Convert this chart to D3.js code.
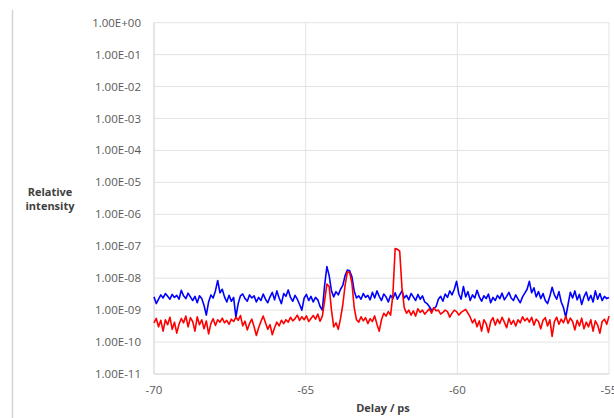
<!DOCTYPE html>
<html><head><meta charset="utf-8">
<script src="https://cdn.jsdelivr.net/npm/d3@7"></script>
<style>body{margin:0;background:#fff;}svg{display:block;}</style>
</head><body><svg id="c" width="614" height="418"></svg>
<script>
const xStart = -70, xStep = 0.075;
const xTicks = [-70, -65, -60, -55];
const yTicks = [1e0,1e-1,1e-2,1e-3,1e-4,1e-5,1e-6,1e-7,1e-8,1e-9,1e-10,1e-11];
const yTickLabels = ["1.00E+00","1.00E-01","1.00E-02","1.00E-03","1.00E-04","1.00E-05","1.00E-06","1.00E-07","1.00E-08","1.00E-09","1.00E-10","1.00E-11"];
const blue = [
2.6e-9,1.6e-9,2.2e-9,3.0e-9,2.4e-9,3.3e-9,2.7e-9,2.2e-9,3.1e-9,2.5e-9,
2.9e-9,2.2e-9,4.2e-9,2.8e-9,2.3e-9,3.4e-9,2.6e-9,2.0e-9,2.7e-9,1.7e-9,
2.8e-9,2.3e-9,1.4e-9,7.0e-10,1.8e-9,3.0e-9,2.4e-9,4.0e-9,8.5e-9,3.5e-9,
4.5e-9,2.6e-9,1.8e-9,2.9e-9,1.9e-9,2.5e-9,6.0e-10,1.6e-9,2.8e-9,3.2e-9,
2.3e-9,1.9e-9,3.0e-9,2.4e-9,2.8e-9,1.8e-9,2.5e-9,2.0e-9,3.2e-9,2.2e-9,
1.7e-9,2.6e-9,3.6e-9,2.1e-9,4.0e-9,2.4e-9,1.6e-9,3.3e-9,2.7e-9,4.3e-9,
2.5e-9,1.9e-9,2.9e-9,2.2e-9,1.5e-9,1.0e-9,2.4e-9,3.1e-9,2.0e-9,2.7e-9,
1.8e-9,2.5e-9,2.1e-9,1.3e-9,1.0e-9,6.0e-9,2.3e-8,1.2e-8,4.0e-9,2.6e-9,
3.8e-9,3.0e-9,4.5e-9,6.0e-9,1.2e-8,1.8e-8,1.7e-8,1.1e-8,4.0e-9,2.4e-9,
2.8e-9,2.2e-9,3.3e-9,2.5e-9,2.9e-9,2.1e-9,3.6e-9,2.4e-9,4.0e-9,2.7e-9,
2.0e-9,3.2e-9,2.6e-9,1.8e-9,2.9e-9,2.3e-9,3.5e-9,2.2e-9,3.0e-9,4.0e-9,
2.4e-9,2.9e-9,2.1e-9,3.3e-9,2.6e-9,2.0e-9,3.1e-9,2.2e-9,2.8e-9,1.8e-9,
1.6e-9,1.3e-9,1.0e-9,1.1e-9,1.3e-9,2.2e-9,2.7e-9,1.9e-9,3.2e-9,2.5e-9,
4.0e-9,3.0e-9,4.5e-9,8.0e-9,3.2e-9,2.2e-9,5.5e-9,2.6e-9,3.8e-9,2.0e-9,
3.0e-9,2.4e-9,4.2e-9,2.6e-9,1.9e-9,2.8e-9,2.3e-9,3.2e-9,1.7e-9,2.5e-9,
2.0e-9,2.9e-9,2.3e-9,3.4e-9,2.1e-9,2.7e-9,3.6e-9,2.4e-9,2.0e-9,3.0e-9,
2.2e-9,1.7e-9,2.6e-9,3.4e-9,4.5e-9,8.0e-9,3.5e-9,5.0e-9,2.6e-9,3.8e-9,
2.3e-9,3.3e-9,2.0e-9,1.6e-9,2.7e-9,5.2e-9,3.0e-9,2.2e-9,3.8e-9,1.8e-9,
1.2e-9,6.0e-10,1.5e-9,3.6e-9,2.4e-9,4.0e-9,2.1e-9,3.1e-9,1.5e-9,2.6e-9,
3.7e-9,2.0e-9,2.9e-9,1.8e-9,4.0e-9,2.2e-9,3.3e-9,2.0e-9,2.7e-9,2.3e-9,
2.5e-9];
const red = [
4.0e-10,5.5e-10,3.0e-10,4.8e-10,2.2e-10,5.0e-10,3.5e-10,6.0e-10,2.5e-10,4.2e-10,
1.9e-10,3.6e-10,5.5e-10,4.0e-10,6.5e-10,3.0e-10,5.8e-10,4.4e-10,2.2e-10,6.2e-10,
3.5e-10,5.0e-10,2.6e-10,4.6e-10,1.8e-10,3.8e-10,5.4e-10,3.3e-10,5.0e-10,4.2e-10,
5.6e-10,4.0e-10,4.8e-10,3.6e-10,5.2e-10,4.4e-10,6.0e-10,4.8e-10,6.8e-10,3.2e-10,
4.5e-10,2.4e-10,3.8e-10,5.2e-10,3.0e-10,1.6e-10,2.8e-10,4.4e-10,6.5e-10,4.0e-10,
2.5e-10,3.5e-10,1.7e-10,2.8e-10,4.2e-10,3.2e-10,4.8e-10,3.8e-10,5.0e-10,4.2e-10,
6.0e-10,4.6e-10,5.4e-10,7.0e-10,4.8e-10,6.2e-10,5.0e-10,6.6e-10,4.4e-10,5.5e-10,
6.8e-10,5.2e-10,7.5e-10,4.5e-10,6.5e-10,2.0e-9,6.5e-9,5.5e-9,1.0e-9,3.0e-10,
4.0e-10,2.5e-10,5.5e-10,1.5e-9,6.0e-9,1.6e-8,1.5e-8,7.0e-9,1.2e-9,5.0e-10,
4.2e-10,6.2e-10,4.6e-10,5.8e-10,3.8e-10,5.4e-10,4.4e-10,6.6e-10,3.6e-10,2.2e-10,
5.0e-10,8.0e-10,6.5e-10,9.0e-10,7.0e-10,3.0e-9,8.5e-8,8.0e-8,7.0e-8,5.0e-9,
1.2e-9,8.0e-10,1.0e-9,7.0e-10,9.5e-10,6.5e-10,1.1e-9,8.5e-10,1.0e-9,7.5e-10,
9.0e-10,1.1e-9,8.0e-10,1.2e-9,9.5e-10,1.0e-9,7.5e-10,8.5e-10,1.0e-9,9.0e-10,
6.0e-10,8.0e-10,1.0e-9,9.0e-10,7.0e-10,8.5e-10,9.5e-10,1.05e-9,8.0e-10,6.0e-10,
4.0e-10,5.2e-10,3.0e-10,4.6e-10,2.2e-10,5.0e-10,3.8e-10,2.0e-10,4.4e-10,5.8e-10,
3.4e-10,5.2e-10,3.8e-10,6.0e-10,4.2e-10,2.8e-10,5.5e-10,3.6e-10,4.8e-10,3.2e-10,
5.0e-10,4.0e-10,6.2e-10,4.6e-10,5.6e-10,4.2e-10,6.0e-10,3.4e-10,5.2e-10,4.4e-10,
2.6e-10,4.8e-10,5.8e-10,3.2e-10,5.0e-10,1.5e-10,4.4e-10,6.0e-10,3.6e-10,5.2e-10,
4.0e-10,6.4e-10,3.8e-10,5.6e-10,4.4e-10,2.4e-10,4.8e-10,3.2e-10,5.6e-10,2.6e-10,
4.2e-10,3.0e-10,5.0e-10,2.2e-10,4.6e-10,3.4e-10,1.9e-10,4.4e-10,5.2e-10,3.6e-10,
6.5e-10];

const svg = d3.select("#c");
const L = 154, R = 609, T = 22.7, B = 374;
const x = d3.scaleLinear().domain([-70, -55]).range([L, R]);
const y = d3.scaleLog().domain([1e-11, 1e0]).range([B, T]);

// outer left border line
svg.append("line").attr("x1", 12.5).attr("x2", 12.5).attr("y1", 10).attr("y2", 418)
  .attr("stroke", "#d4d4d4").attr("stroke-width", 1.5);

// horizontal gridlines
svg.append("g").selectAll("line").data(yTicks).join("line")
  .attr("x1", L).attr("x2", R).attr("y1", d => y(d)).attr("y2", d => y(d))
  .attr("stroke", "#e3e3e3").attr("stroke-width", 1);
// vertical gridlines
svg.append("g").selectAll("line").data(xTicks).join("line")
  .attr("x1", d => x(d)).attr("x2", d => x(d)).attr("y1", T).attr("y2", B)
  .attr("stroke", "#e3e3e3").attr("stroke-width", 1);
// axis lines
svg.append("line").attr("x1", L).attr("x2", L).attr("y1", T).attr("y2", B).attr("stroke", "#d9d9d9");
svg.append("line").attr("x1", L).attr("x2", R).attr("y1", B).attr("y2", B).attr("stroke", "#d9d9d9");

// y tick labels
svg.append("g").selectAll("text").data(yTicks).join("text")
  .attr("x", 141).attr("y", d => y(d) + 4)
  .attr("text-anchor", "end").attr("font-family", "Open Sans").attr("font-size", 11.5)
  .attr("fill", "#595959").text((d, i) => yTickLabels[i]);
// x tick labels
svg.append("g").selectAll("text").data(xTicks).join("text")
  .attr("x", d => x(d)).attr("y", 394)
  .attr("text-anchor", "middle").attr("font-family", "Open Sans").attr("font-size", 11.5)
  .attr("fill", "#595959").text(d => d);

// axis titles
svg.append("text").attr("x", 383).attr("y", 412).attr("text-anchor", "middle")
  .attr("font-family", "Open Sans").attr("font-size", 11).attr("font-weight", "bold")
  .attr("fill", "#404040").text("Delay / ps");
const yt = svg.append("text").attr("text-anchor", "middle")
  .attr("font-family", "Open Sans").attr("font-size", 11).attr("font-weight", "bold").attr("fill", "#404040");
yt.append("tspan").attr("x", 50).attr("y", 196).text("Relative");
yt.append("tspan").attr("x", 50).attr("y", 210).text("intensity");

const line = d3.line().x((d, i) => x(xStart + i * xStep)).y(d => y(d));
svg.append("path").datum(blue).attr("d", line).attr("fill", "none")
  .attr("stroke", "#0000ff").attr("stroke-width", 1.6).attr("stroke-linejoin", "round");
svg.append("path").datum(red).attr("d", line).attr("fill", "none")
  .attr("stroke", "#ff0000").attr("stroke-width", 1.6).attr("stroke-linejoin", "round");
</script></body></html>
